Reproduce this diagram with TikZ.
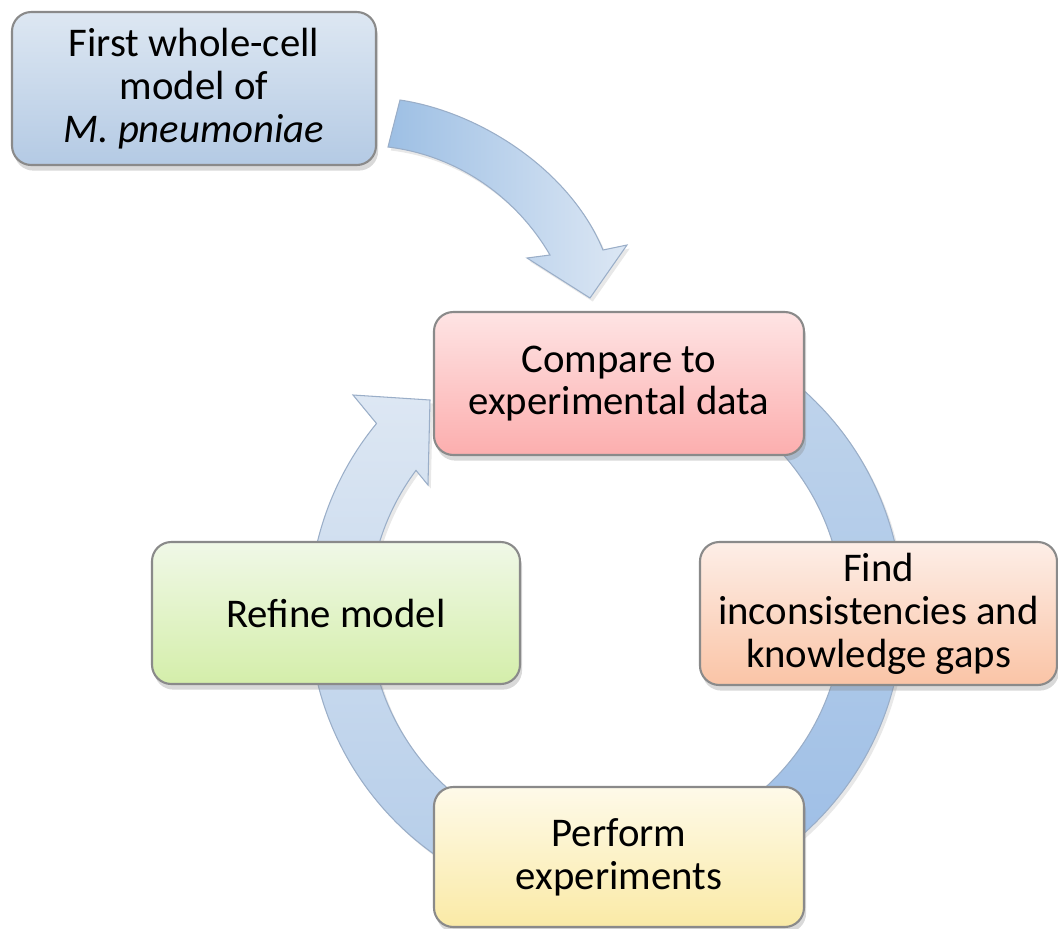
\documentclass[tikz,border=0pt]{standalone}
\usepackage{fontspec}
\setmainfont{Carlito}
\usepackage{tikz}
\usetikzlibrary{positioning, shadows, calc}

\definecolor{boxline}{HTML}{8A8A8A}
\definecolor{ringline}{HTML}{9AAEC8}

\begin{document}
\begin{tikzpicture}[
    box/.style={draw=boxline, line width=0.6pt, rounded corners=5.5pt, align=center,
      inner sep=0pt, font=\fontsize{11.6}{12.2}\selectfont,
      drop shadow={opacity=0.3, shadow xshift=0.6pt, shadow yshift=-1.6pt}},
    blockarrow/.style={draw=ringline, line width=0.3pt,
      drop shadow={opacity=0.18, shadow xshift=0.8pt, shadow yshift=-1pt}}
  ]
  \useasboundingbox (0,0) rectangle (10.58,-9.29);
  \coordinate (c) at (6.06,-6.12);

  % Arrows
  \shade[blockarrow, top color={rgb,255:red,190;green,211;blue,235}, bottom color={rgb,255:red,157;green,190;blue,230}]
    ($(c)+(48:2.97)$) arc[start angle=48, end angle=-62, radius=2.97]
    -- ($(c)+(-62:2.37)$) arc[start angle=-62, end angle=48, radius=2.37] -- cycle;
  \shade[blockarrow, top color={rgb,255:red,221;green,231;blue,243}, bottom color={rgb,255:red,181;green,205;blue,233}]
    ($(c)+(245:2.97)$) arc[start angle=245, end angle=140.6, radius=2.97]
    -- (3.53,-3.95) -- (4.30,-4.00) -- (4.28,-4.85)
    -- ($(c)+(143.3:2.37)$) arc[start angle=143.3, end angle=245, radius=2.37] -- cycle;
  \shade[blockarrow, left color={rgb,255:red,157;green,191;blue,228}, right color={rgb,255:red,220;green,231;blue,244}]
    (4.00,-1.00) .. controls (4.80,-1.12) and (5.70,-1.70) .. (6.03,-2.50)
    -- (6.27,-2.45) -- (5.90,-2.98) -- (5.27,-2.58) -- (5.50,-2.55)
    .. controls (5.15,-1.95) and (4.55,-1.55) .. (3.88,-1.47) -- cycle;

  % Nodes
  \node[box, minimum width=3.64cm, minimum height=1.53cm,
    top color={rgb,255:red,221;green,231;blue,242}, bottom color={rgb,255:red,180;green,202;blue,228}]
    (first) at (1.94,-0.885) {First whole-cell\\model of\\\textit{M. pneumoniae}};
  \node[box, minimum width=3.70cm, minimum height=1.43cm,
    top color={rgb,255:red,254;green,228;blue,228}, bottom color={rgb,255:red,252;green,174;blue,174}]
    (compare) at (6.19,-3.835) {Compare to\\experimental data};
  \node[box, minimum width=3.57cm, minimum height=1.43cm,
    top color={rgb,255:red,253;green,238;blue,231}, bottom color={rgb,255:red,250;green,196;blue,166}]
    (find) at (8.785,-6.135) {Find\\inconsistencies and\\knowledge gaps};
  \node[box, minimum width=3.68cm, minimum height=1.42cm,
    top color={rgb,255:red,240;green,248;blue,231}, bottom color={rgb,255:red,212;green,238;blue,170}]
    (refine) at (3.36,-6.13) {Refine model};
  \node[box, minimum width=3.70cm, minimum height=1.40cm,
    top color={rgb,255:red,254;green,250;blue,233}, bottom color={rgb,255:red,250;green,234;blue,166}]
    (perform) at (6.19,-8.57) {Perform\\experiments};
\end{tikzpicture}
\end{document}
